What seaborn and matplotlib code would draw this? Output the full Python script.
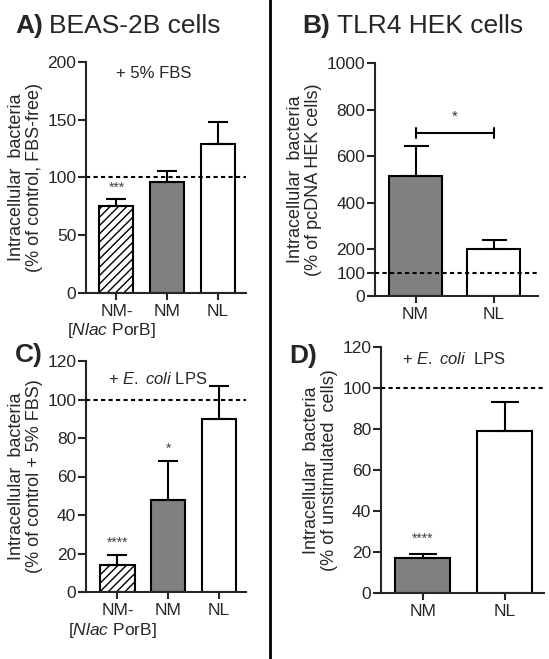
import numpy as np
import matplotlib
matplotlib.use("Agg")
import matplotlib.pyplot as plt
from matplotlib.lines import Line2D
import seaborn as sns

# Data
a_labels = ["NM-", "NM", "NL"]
a_means = [75, 96, 129]
a_err = [6, 10, 19]
a_stars = ["***", "", ""]

b_labels = ["NM", "NL"]
b_means = [515, 200]
b_err = [130, 40]

c_labels = ["NM-", "NM", "NL"]
c_means = [14, 48, 90]
c_err = [5, 20, 17]
c_stars = ["****", "*", ""]

d_labels = ["NM", "NL"]
d_means = [17, 79]
d_err = [2, 14]
d_stars = ["****", ""]

sub_label = "[$\\mathit{Nlac}$ PorB]"

sns.set_style("ticks")
plt.rcParams["font.family"] = ["Liberation Sans", "DejaVu Sans"]
plt.rcParams["mathtext.fontset"] = "custom"
plt.rcParams["mathtext.rm"] = "Liberation Sans"
plt.rcParams["mathtext.it"] = "Liberation Sans:italic"
plt.rcParams["hatch.linewidth"] = 1.0

W, H = 549, 659
fig = plt.figure(figsize=(W / 100, H / 100), dpi=100)


def px_axes(left, right, top, bottom):
    return fig.add_axes([left / W, 1 - bottom / H, (right - left) / W, (bottom - top) / H])


def draw_panel(ax, labels, means, err, colors, ylim, yticks, xlim, ylabel, capsize, hatch_first=False):
    sns.barplot(x=labels, y=means, hue=labels, palette=colors, legend=False,
                width=0.67, edgecolor="black", linewidth=1.5, saturation=1, ax=ax)
    if hatch_first:
        ax.patches[0].set_hatch("////")
    x = np.arange(len(labels))
    ax.errorbar(x, means, yerr=[np.zeros(len(means)), err], fmt="none",
                ecolor="black", elinewidth=1.5, capsize=capsize, capthick=1.5, zorder=1)
    ax.set_ylim(*ylim)
    ax.set_yticks(yticks)
    ax.set_xlim(*xlim)
    ax.set_xlabel("")
    ax.set_ylabel(ylabel, fontsize=13, labelpad=3, linespacing=1.1)
    sns.despine(ax=ax)
    for s in ["left", "bottom"]:
        ax.spines[s].set_linewidth(1.5)
    ax.tick_params(axis="y", labelsize=12.5, width=1.5, length=6, pad=1)
    ax.tick_params(axis="x", labelsize=12.5, width=1.5, length=5, pad=3)
    ax.axhline(100, color="black", lw=1.5, ls=(0, (2, 1.6)), zorder=3)


# Panel A
axA = px_axes(86, 246, 62, 293)
draw_panel(axA, a_labels, a_means, a_err, ["white", "#808080", "white"], (0, 200),
           [0, 50, 100, 150, 200], (-0.6, 2.55),
           "Intracellular  bacteria\n(% of control, FBS-free)", 7, hatch_first=True)
axA.annotate(sub_label, xy=(-0.1, 0), xycoords=("data", "axes fraction"),
             xytext=(0, -38), textcoords="offset pixels", ha="center", va="center", fontsize=12.5)
axA.text(0.425, 0.95, "+ 5% FBS", transform=axA.transAxes, ha="center", va="center", fontsize=12)
for i, s in enumerate(a_stars):
    if s:
        axA.text(i, a_means[i] + a_err[i] + 4, s, ha="center", va="bottom", fontsize=10, color="#444444")

# Panel B
axB = px_axes(375, 538, 63, 296)
draw_panel(axB, b_labels, b_means, b_err, ["#808080", "white"], (0, 1000),
           [0, 100, 200, 400, 600, 800, 1000], (-0.52, 1.57),
           "Intracellular  bacteria\n(% of pcDNA HEK cells)", 9)
axB.plot([0, 1], [700, 700], color="black", lw=1.5)
axB.plot([0, 0], [720, 680], color="black", lw=1.5)
axB.plot([1, 1], [720, 680], color="black", lw=1.5)
axB.text(0.5, 740, "*", ha="center", va="bottom", fontsize=11, color="#333333")

# Panel C
axC = px_axes(86, 246, 361, 592)
draw_panel(axC, c_labels, c_means, c_err, ["white", "#808080", "white"], (0, 120),
           [0, 20, 40, 60, 80, 100, 120], (-0.62, 2.53),
           "Intracellular  bacteria\n(% of control + 5% FBS)", 7, hatch_first=True)
axC.annotate(sub_label, xy=(-0.1, 0), xycoords=("data", "axes fraction"),
             xytext=(0, -38), textcoords="offset pixels", ha="center", va="center", fontsize=12.5)
axC.text(0.45, 0.92, "+ $\\mathit{E.\\ coli}$ LPS", transform=axC.transAxes,
         ha="center", va="center", fontsize=12)
for i, s in enumerate(c_stars):
    if s:
        axC.text(i, c_means[i] + c_err[i] + 3, s, ha="center", va="bottom", fontsize=10, color="#444444")

# Panel D
axD = px_axes(381, 544, 347, 593)
draw_panel(axD, d_labels, d_means, d_err, ["#808080", "white"], (0, 120),
           [0, 20, 40, 60, 80, 100, 120], (-0.51, 1.48),
           "Intracellular  bacteria\n(% of unstimulated  cells)", 10)
axD.text(0.45, 0.95, "+ $\\mathit{E.\\ coli}$  LPS", transform=axD.transAxes,
         ha="center", va="center", fontsize=12)
for i, s in enumerate(d_stars):
    if s:
        axD.text(i, d_means[i] + d_err[i] + 4, s, ha="center", va="bottom", fontsize=10, color="#444444")

# Panel titles
fig.text(15 / W, 1 - 33 / H, "A)", fontsize=19, fontweight="bold", va="baseline")
fig.text(49 / W, 1 - 33 / H, "BEAS-2B cells", fontsize=19, va="baseline")
fig.text(302 / W, 1 - 33 / H, "B)", fontsize=19, fontweight="bold", va="baseline")
fig.text(337 / W, 1 - 33 / H, "TLR4 HEK cells", fontsize=19, va="baseline")
fig.text(15 / W, 1 - 362 / H, "C)", fontsize=19, fontweight="bold", va="baseline")
fig.text(289 / W, 1 - 363 / H, "D)", fontsize=19, fontweight="bold", va="baseline")

# vertical divider
fig.add_artist(Line2D([270 / W, 270 / W], [0, 1], transform=fig.transFigure, color="black", lw=2))

fig.savefig("out.png", dpi=100)
